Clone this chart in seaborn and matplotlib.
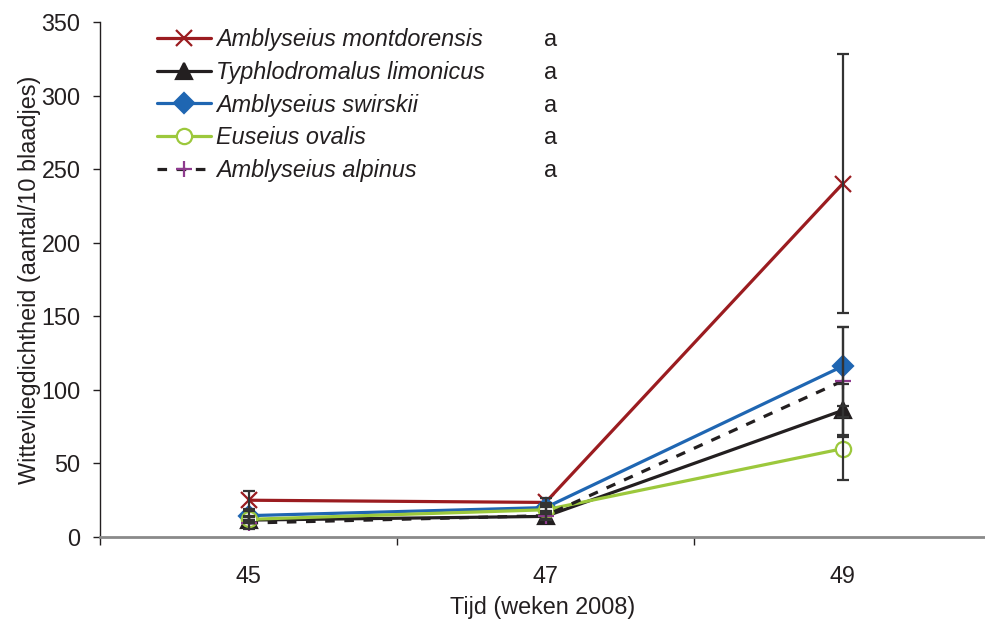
import numpy as np
import pandas as pd
import matplotlib
matplotlib.use('Agg')
import matplotlib.pyplot as plt
import seaborn as sns

# Data
weeks = ['45', '47', '49']
species = ['Amblyseius montdorensis', 'Typhlodromalus limonicus',
           'Amblyseius swirskii', 'Euseius ovalis', 'Amblyseius alpinus']
letters = ['a', 'a', 'a', 'a', 'a']

montdorensis = [25, 23.5, 240]
montdorensis_err = [6, 3, 88]
limonicus = [11.5, 14, 86]
limonicus_err = [2, 2, 18]
swirskii = [14.5, 20, 116]
swirskii_err = [3, 3, 27]
ovalis = [12, 18.5, 60]
ovalis_err = [2, 3, 21.5]
alpinus = [9.5, 14.5, 106]
alpinus_err = [4, 3, 37]

means = [montdorensis, limonicus, swirskii, ovalis, alpinus]
errors = [montdorensis_err, limonicus_err, swirskii_err, ovalis_err, alpinus_err]

# Styles per series
colors = ['#9b1c20', '#231f20', '#1f66b2', '#9cc83c', '#231f20']
markers = ['x', '^', 'D', 'o', '+']
marker_colors = ['#9b1c20', '#231f20', '#1f66b2', '#9cc83c', '#8e3b8e']
marker_faces = ['#9b1c20', '#231f20', '#1f66b2', 'white', '#8e3b8e']
marker_sizes = [11, 11, 10, 11, 12]
linestyles = ['-', '-', '-', '-', (0, (3, 3))]

sns.set_theme(style='white')
plt.rcParams['font.family'] = ['Liberation Sans', 'DejaVu Sans']
fs = 16.8

fig = plt.figure(figsize=(9.85, 6.23), dpi=100)
ax = fig.add_axes([100 / 985, 1 - 537 / 623, 885 / 985, 515 / 623])

x_pos = np.arange(len(weeks))
for i, name in enumerate(species):
    df = pd.DataFrame({'week': x_pos, 'value': means[i]})
    sns.lineplot(data=df, x='week', y='value', ax=ax, color=colors[i],
                 linewidth=2.3, linestyle=linestyles[i], marker=markers[i],
                 markersize=marker_sizes[i], markeredgecolor=marker_colors[i],
                 markerfacecolor=marker_faces[i], markeredgewidth=1.6,
                 label=name, zorder=3)
    ax.errorbar(x_pos, means[i], yerr=errors[i], fmt='none', ecolor='#333333',
                elinewidth=1.6, capsize=4.5, capthick=1.6, zorder=4)

# Axes
ax.set_xlim(-0.5, 885 / 297 - 0.5)
ax.set_ylim(0, 350)
ax.set_yticks(np.arange(0, 351, 50))
ax.set_xticks(x_pos)
ax.set_xticklabels(weeks)
ax.set_xticks([-0.5, 0.5, 1.5], minor=True)
ax.tick_params(axis='x', which='major', length=0, pad=20, labelsize=fs, colors='#231f20')
ax.tick_params(axis='x', which='minor', length=6, width=1, color='#231f20', direction='out', bottom=True)
ax.tick_params(axis='y', which='major', length=5, width=1, color='#231f20', direction='out',
               left=True, pad=9, labelsize=fs, labelcolor='#231f20')

for side in ['top', 'right']:
    ax.spines[side].set_visible(False)
ax.spines['left'].set_color('#231f20')
ax.spines['left'].set_linewidth(1.0)
ax.spines['bottom'].set_color('#8a8a8a')
ax.spines['bottom'].set_linewidth(2.0)

ax.set_xlabel('Tijd (weken 2008)', fontsize=fs, color='#231f20', labelpad=6)
ax.set_ylabel('Wittevliegdichtheid (aantal/10 blaadjes)', fontsize=fs, color='#231f20', labelpad=0)

leg = ax.legend(loc='upper left', bbox_to_anchor=(157 / 985, 1 - 28 / 623),
                bbox_transform=fig.transFigure, frameon=False, fontsize=fs,
                handlelength=2.3, handletextpad=0.25, labelspacing=0.42,
                borderaxespad=0, borderpad=0)
for t in leg.get_texts():
    t.set_fontstyle('italic')
    t.set_color('#231f20')

# significance letters next to legend rows
fig.canvas.draw()
inv = fig.transFigure.inverted()
for t, letter in zip(leg.get_texts(), letters):
    bb = t.get_window_extent()
    yc = inv.transform((0, (bb.y0 + bb.y1) / 2))[1]
    fig.text(544 / 985, yc, letter, fontsize=fs, color='#231f20', va='center', ha='left')

fig.savefig('out.png', dpi=100)
